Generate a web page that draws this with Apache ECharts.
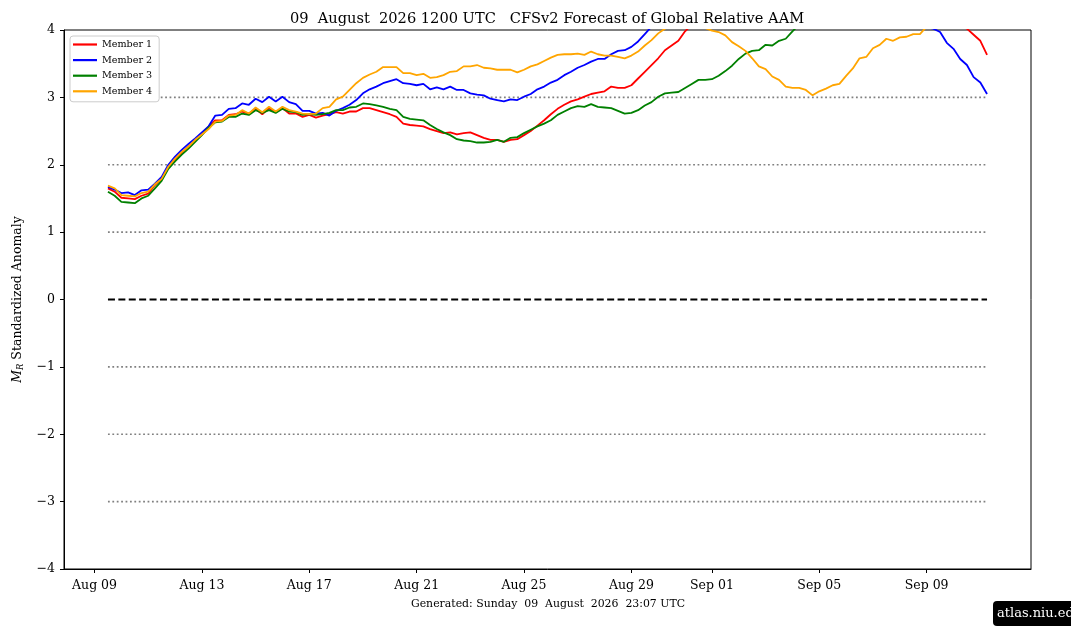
<!DOCTYPE html>
<html>
<head>
<meta charset="utf-8">
<script src="https://cdn.jsdelivr.net/npm/echarts@6/dist/echarts.min.js"></script>
<style>
html,body{margin:0;padding:0;background:#fff;}
#chart{width:1071px;height:638px;}
</style>
</head>
<body>
<div id="chart"></div>
<script>
// ---- Data (6-hourly, starting 09 Aug 2026 12 UTC) ----
const startTime = Date.UTC(2026, 7, 9, 12);
const stepHours = 6;

const member1 = [
  1.65,1.60,1.51,1.50, 1.49,1.54,1.57,1.70, 1.79,1.97,2.08,2.18, 2.27,2.36,2.45,2.57,
  2.66,2.66,2.74,2.75, 2.79,2.76,2.83,2.75, 2.84,2.78,2.84,2.76, 2.76,2.71,2.74,2.70,
  2.73,2.75,2.78,2.76, 2.79,2.79,2.84,2.84, 2.81,2.78,2.75,2.71, 2.61,2.59,2.58,2.57,
  2.53,2.50,2.47,2.48, 2.45,2.47,2.48,2.44, 2.40,2.37,2.37,2.34, 2.37,2.38,2.44,2.50,
  2.58,2.66,2.75,2.83, 2.89,2.94,2.97,3.01, 3.05,3.07,3.09,3.16, 3.14,3.14,3.18,3.28,
  3.38,3.48,3.58,3.70, 3.77,3.84,3.98,4.08, 4.15,4.22,4.28,4.33, 4.38,4.42,4.46,4.50,
  4.53,4.56,4.58,4.60, 4.62,4.63,4.64,4.64, 4.63,4.62,4.60,4.58, 4.55,4.52,4.49,4.46,
  4.42,4.38,4.35,4.32, 4.29,4.26,4.23,4.20, 4.18,4.16,4.14,4.12, 4.10,4.08,4.07,4.06,
  4.02,3.93,3.84,3.63
];
const member2 = [
  1.67,1.63,1.58,1.59, 1.55,1.62,1.63,1.72, 1.82,2.00,2.12,2.22, 2.31,2.39,2.48,2.57,
  2.73,2.74,2.83,2.84, 2.91,2.89,2.98,2.93, 3.01,2.94,3.01,2.93, 2.90,2.80,2.80,2.76,
  2.77,2.73,2.80,2.84, 2.89,2.96,3.06,3.12, 3.16,3.21,3.24,3.27, 3.21,3.20,3.18,3.20,
  3.12,3.15,3.12,3.16, 3.11,3.11,3.06,3.04, 3.03,2.98,2.96,2.94, 2.97,2.96,3.01,3.05,
  3.12,3.16,3.22,3.26, 3.33,3.38,3.44,3.48, 3.53,3.57,3.57,3.64, 3.69,3.70,3.75,3.83,
  3.94,4.05,4.12,4.20, 4.26,4.32,4.37,4.42, 4.46,4.50,4.53,4.56, 4.58,4.60,4.61,4.62,
  4.62,4.61,4.60,4.58, 4.56,4.54,4.52,4.50, 4.47,4.44,4.41,4.38, 4.35,4.32,4.29,4.26,
  4.24,4.22,4.20,4.18, 4.16,4.14,4.12,4.10, 4.08,4.06,4.04,4.02, 3.97,3.81,3.72,3.57,
  3.48,3.30,3.22,3.05
];
const member3 = [
  1.60,1.54,1.45,1.44, 1.43,1.50,1.54,1.65, 1.76,1.94,2.05,2.15, 2.24,2.34,2.44,2.55,
  2.63,2.64,2.71,2.71, 2.76,2.74,2.81,2.77, 2.81,2.77,2.83,2.79, 2.78,2.74,2.75,2.74,
  2.75,2.77,2.81,2.81, 2.85,2.86,2.91,2.90, 2.88,2.86,2.83,2.81, 2.71,2.68,2.67,2.66,
  2.59,2.53,2.48,2.44, 2.38,2.36,2.35,2.33, 2.33,2.34,2.37,2.34, 2.40,2.41,2.47,2.52,
  2.57,2.61,2.66,2.74, 2.79,2.84,2.87,2.86, 2.90,2.86,2.85,2.84, 2.80,2.76,2.77,2.81,
  2.88,2.93,3.01,3.06, 3.07,3.08,3.14,3.20, 3.26,3.26,3.27,3.32, 3.39,3.47,3.57,3.65,
  3.69,3.70,3.78,3.77, 3.84,3.87,3.98,4.08, 4.15,4.22,4.28,4.34, 4.40,4.45,4.50,4.55,
  4.60,4.64,4.68,4.72, 4.75,4.78,4.80,4.82, 4.84,4.86,4.87,4.88, 4.89,4.90,4.90,4.90,
  4.90,4.90,4.89,4.88
];
const member4 = [
  1.69,1.65,1.55,1.54, 1.53,1.58,1.60,1.71, 1.79,1.97,2.09,2.19, 2.27,2.37,2.45,2.53,
  2.64,2.65,2.73,2.74, 2.81,2.76,2.85,2.78, 2.86,2.79,2.86,2.81, 2.79,2.76,2.75,2.76,
  2.84,2.86,2.97,3.01, 3.11,3.21,3.29,3.34, 3.38,3.45,3.45,3.45, 3.36,3.36,3.33,3.35,
  3.29,3.30,3.33,3.38, 3.39,3.46,3.46,3.48, 3.44,3.43,3.41,3.41, 3.41,3.37,3.41,3.46,
  3.49,3.54,3.59,3.63, 3.64,3.64,3.65,3.63, 3.68,3.64,3.62,3.62, 3.60,3.58,3.62,3.68,
  3.77,3.85,3.95,4.02, 4.08,4.12,4.14,4.12, 4.10,4.03,3.99,3.97, 3.92,3.82,3.76,3.69,
  3.58,3.46,3.42,3.31, 3.26,3.16,3.14,3.14, 3.11,3.03,3.09,3.13, 3.18,3.20,3.32,3.43,
  3.58,3.60,3.73,3.78, 3.87,3.84,3.89,3.90, 3.94,3.94,4.05,4.12, 4.18,4.24,4.30,4.35,
  4.40,4.44,4.48,4.50
];

const memberNames = ['Member 1','Member 2','Member 3','Member 4'];
const memberColors = ['#ff0000','#0000ff','#008000','#ffa500'];
const refLevels = [-3,-2,-1,1,2,3];
const zeroLevel = 0;
const tickDates = ['2026-08-09','2026-08-13','2026-08-17','2026-08-21','2026-08-25','2026-08-29','2026-09-01','2026-09-05','2026-09-09'];
const monthNames = ['Jan','Feb','Mar','Apr','May','Jun','Jul','Aug','Sep','Oct','Nov','Dec'];

const titleText = '09  August  2026 1200 UTC   CFSv2 Forecast of Global Relative AAM';
const generatedText = 'Generated: Sunday  09  August  2026  23:07 UTC';
const watermarkText = 'atlas.niu.edu';

// ---- Build ----
const allMembers = [member1, member2, member3, member4];
const toPairs = arr => arr.map((v, i) => [startTime + i * stepHours * 3600e3, v]);
const firstT = startTime;
const lastT = startTime + (member1.length - 1) * stepHours * 3600e3;
const span = lastT - firstT;
const xMin = firstT - span * 0.05;
const xMax = lastT + span * 0.05;
const tickValues = tickDates.map(d => Date.parse(d + 'T00:00:00Z'));
const pad2 = n => (n < 10 ? '0' : '') + n;
const fmtDate = v => { const d = new Date(v); return monthNames[d.getUTCMonth()] + ' ' + pad2(d.getUTCDate()); };

const FONT = 'DejaVu Serif';

const series = [];
refLevels.forEach(lv => {
  series.push({
    type: 'line', silent: true, showSymbol: false, z: 1,
    data: [[firstT, lv], [lastT, lv]],
    lineStyle: { color: '#808080', width: 1.6, type: [1.8, 2.6] }
  });
});
series.push({
  type: 'line', silent: true, showSymbol: false, z: 1,
  data: [[firstT, zeroLevel], [lastT, zeroLevel]],
  lineStyle: { color: '#000', width: 2, type: [7, 3.4] }
});
allMembers.forEach((arr, k) => {
  series.push({
    name: memberNames[k], type: 'line', showSymbol: false, clip: true, z: 3,
    data: toPairs(arr),
    lineStyle: { color: memberColors[k], width: 1.8 },
    itemStyle: { color: memberColors[k] }
  });
});

const chart = echarts.init(document.getElementById('chart'), null, { renderer: 'canvas' });
chart.setOption({
  animation: false,
  backgroundColor: '#fff',
  title: {
    text: titleText, left: 542, top: 7, textAlign: 'center',
    textStyle: { fontFamily: FONT, fontSize: 14.6, fontWeight: 'normal', color: '#000' }
  },
  legend: {
    data: memberNames, orient: 'vertical', left: 70, top: 36,
    icon: 'rect', itemWidth: 24, itemHeight: 2.2, itemGap: 4.6,
    backgroundColor: '#fff', borderColor: '#cccccc', borderWidth: 1, borderRadius: 3,
    padding: [3, 7, 5, 3], itemStyle: { borderWidth: 0 },
    textStyle: { fontFamily: FONT, fontSize: 9.6, color: '#000', lineHeight: 11 }
  },
  grid: { left: 64, right: 40, top: 30, bottom: 69, show: true, borderColor: '#000', borderWidth: 1, backgroundColor: 'transparent' },
  xAxis: {
    type: 'value', min: xMin, max: xMax,
    axisLine: { show: true, onZero: false, lineStyle: { color: '#000', width: 1 } },
    axisTick: { show: true, customValues: tickValues, length: 4, lineStyle: { color: '#000' } },
    axisLabel: { customValues: tickValues, formatter: v => fmtDate(v), fontFamily: FONT, fontSize: 12.5, color: '#000', margin: 10 },
    splitLine: { show: false }
  },
  yAxis: {
    type: 'value', min: -4, max: 4, interval: 1,
    axisLine: { show: true, onZero: false, lineStyle: { color: '#000', width: 1 } },
    axisTick: { show: true, length: 4, lineStyle: { color: '#000' } },
    axisLabel: { formatter: v => (v < 0 ? '\u2212' + Math.abs(v) : String(v)), fontFamily: FONT, fontSize: 12.5, color: '#000', margin: 9 },
    splitLine: { show: false },
    name: '{i|M}{s|R}{n| Standardized Anomaly}',
    nameLocation: 'middle', nameRotate: 90, nameGap: 39,
    nameTextStyle: {
      fontFamily: FONT, fontSize: 12.5, color: '#000',
      rich: {
        i: { fontFamily: FONT, fontSize: 12.5, fontStyle: 'italic', color: '#000' },
        s: { fontFamily: FONT, fontSize: 8.5, fontStyle: 'italic', color: '#000', verticalAlign: 'bottom', padding: [6, 0, 0, 0] },
        n: { fontFamily: FONT, fontSize: 12.5, color: '#000' }
      }
    }
  },
  graphic: [
    { type: 'text', x: 548, y: 604, style: { text: generatedText, fill: '#000', font: '10.9px "DejaVu Serif"', textAlign: 'center', textVerticalAlign: 'middle' } },
    { type: 'rect', shape: { x: 993, y: 601, width: 95, height: 25, r: 4 }, style: { fill: '#000' } },
    { type: 'text', x: 997, y: 613.5, style: { text: watermarkText, fill: '#fff', font: '13px "DejaVu Serif"', textAlign: 'left', textVerticalAlign: 'middle' } }
  ],
  series: series
});
</script>
</body>
</html>
